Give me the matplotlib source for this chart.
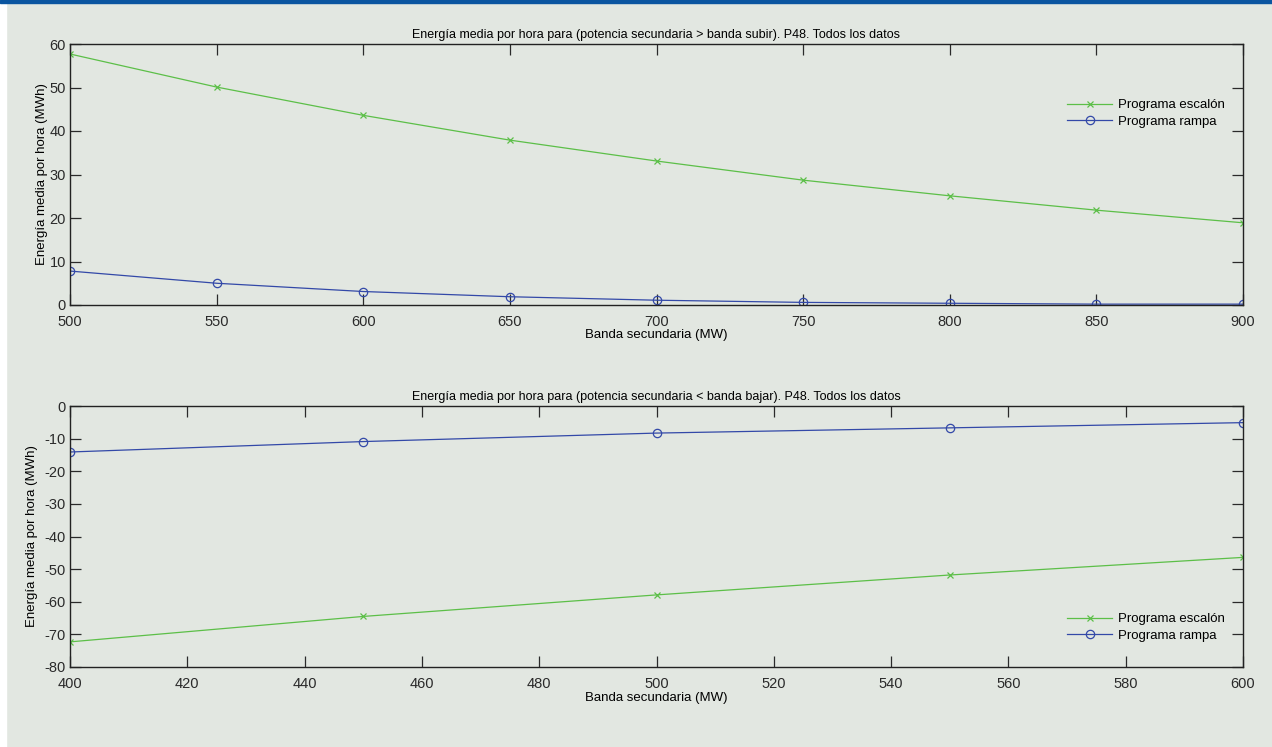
import matplotlib
matplotlib.use('Agg')
import matplotlib.pyplot as plt
from matplotlib.patches import Rectangle

plt.rcParams['font.family'] = ['Liberation Sans', 'DejaVu Sans']
plt.rcParams['axes.unicode_minus'] = False

# Upper panel: secondary power above the up band
banda_subir = [500, 550, 600, 650, 700, 750, 800, 850, 900]
escalon_subir = [57.7, 50.1, 43.6, 37.9, 33.1, 28.7, 25.1, 21.8, 18.9]
rampa_subir = [7.8, 5.0, 3.1, 1.9, 1.1, 0.6, 0.4, 0.2, 0.2]

# Lower panel: secondary power below the down band
banda_bajar = [400, 450, 500, 550, 600]
escalon_bajar = [-72.3, -64.5, -57.9, -51.8, -46.4]
rampa_bajar = [-14.1, -10.9, -8.3, -6.7, -5.1]

bg = '#e2e7e1'
green = '#5cbf48'
blue = '#3349a8'

fig = plt.figure(figsize=(12.72, 7.47), dpi=100, facecolor=bg)
W, H = 1272, 747

# white margin on the left edge and the blue band on top
fig.patches.append(Rectangle((0, 0), 6 / W, 1, transform=fig.transFigure, color='white', zorder=0))
fig.patches.append(Rectangle((0, 1 - 3 / H), 1, 3 / H, transform=fig.transFigure, color='#0a55a0', zorder=1))


def axes_px(x0, y0, x1, y1):
    return fig.add_axes([x0 / W, 1 - y1 / H, (x1 - x0) / W, (y1 - y0) / H])


def style(ax):
    ax.set_facecolor(bg)
    for s in ax.spines.values():
        s.set_color('#222222')
        s.set_linewidth(1.0)
    ax.tick_params(direction='in', top=True, right=True, length=8, width=0.9,
                   labelsize=10.5, colors='#2a2a2a')
    ax.tick_params(axis='x', pad=7)
    ax.tick_params(axis='y', pad=3)


ax1 = axes_px(70, 44, 1243, 305)
ax1.plot(banda_subir, escalon_subir, '-x', color=green, lw=0.9, ms=5, mew=0.9, label='Programa escalón')
ax1.plot(banda_subir, rampa_subir, '-o', color=blue, lw=0.9, ms=6, mew=0.9, mfc='none', label='Programa rampa')
ax1.set_xlim(500, 900)
ax1.set_ylim(0, 60)
ax1.set_xticks(range(500, 901, 50))
ax1.set_yticks(range(0, 61, 10))
style(ax1)
ax1.set_title('Energía media por hora para (potencia secundaria > banda subir). P48. Todos los datos',
              fontsize=9, pad=4)
ax1.set_xlabel('Banda secundaria (MW)', fontsize=9.5, labelpad=0)
ax1.set_ylabel('Energía media por hora (MWh)', fontsize=9.5)
ax1.yaxis.set_label_coords(-0.019, 0.5)
ax1.legend(loc='upper right', bbox_to_anchor=(0.992, 0.825), frameon=False, fontsize=9.5,
           handlelength=3.4, handletextpad=0.4, borderpad=0.2, labelspacing=0.35)

ax2 = axes_px(70, 406, 1243, 667)
ax2.plot(banda_bajar, escalon_bajar, '-x', color=green, lw=0.9, ms=5, mew=0.9, label='Programa escalón')
ax2.plot(banda_bajar, rampa_bajar, '-o', color=blue, lw=0.9, ms=6, mew=0.9, mfc='none', label='Programa rampa')
ax2.set_xlim(400, 600)
ax2.set_ylim(-80, 0)
ax2.set_xticks(range(400, 601, 20))
ax2.set_yticks(range(-80, 1, 10))
style(ax2)
ax2.set_title('Energía media por hora para (potencia secundaria < banda bajar). P48. Todos los datos',
              fontsize=9, pad=4)
ax2.set_xlabel('Banda secundaria (MW)', fontsize=9.5, labelpad=1)
ax2.set_ylabel('Energía media por hora (MWh)', fontsize=9.5)
ax2.yaxis.set_label_coords(-0.027, 0.5)
ax2.legend(loc='lower right', bbox_to_anchor=(0.992, 0.06), frameon=False, fontsize=9.5,
           handlelength=3.4, handletextpad=0.4, borderpad=0.2, labelspacing=0.35)

fig.savefig('out.png', dpi=100, facecolor=bg)
